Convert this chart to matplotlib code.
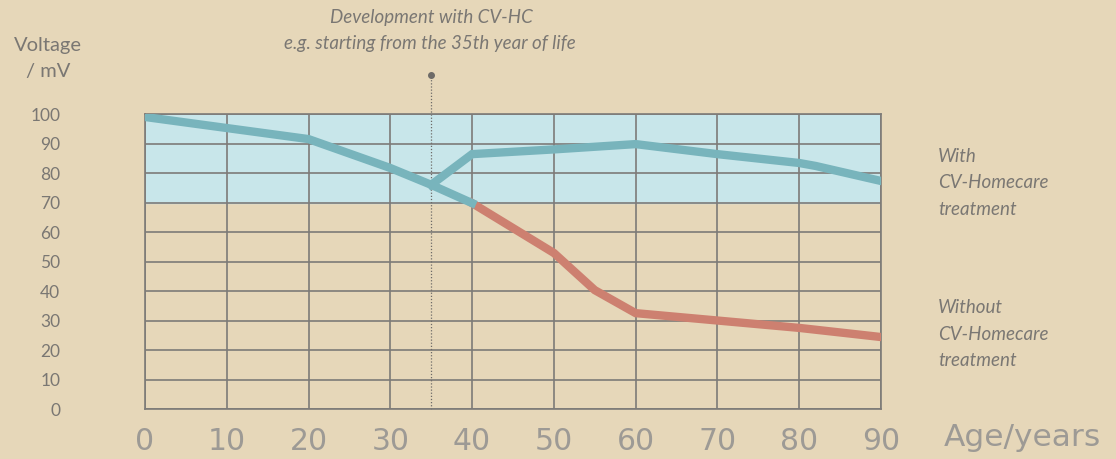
import matplotlib.pyplot as plt
from matplotlib import font_manager

# Datos
ages = [0, 10, 20, 30, 40, 50, 60, 70, 80, 90]
y_ticks = [0, 10, 20, 30, 40, 50, 60, 70, 80, 90, 100]

# Linea comun (sin tratamiento) hasta 40, con tratamiento desde 35
base_x = [0, 20, 30, 35, 40]
base_y = [99, 91.5, 81.7, 76, 69.8]

with_x = [35, 40, 50, 60, 70, 80, 82, 90]
with_y = [76, 86.4, 88, 89.8, 86.4, 83.4, 82.4, 77.3]

without_x = [40, 50, 55, 60, 70, 80, 90]
without_y = [69.8, 52.9, 40.3, 32.5, 30, 27.5, 24.4]

start_age = 35
band_low, band_high = 70, 100

bg = '#E6D7B9'
band = '#C8E6EA'
blue = '#78B4BC'
red = '#CD8070'
grid = '#7d7b78'
txt = '#7a7773'
light_txt = '#9d9a95'

names = {f.name for f in font_manager.fontManager.ttflist}
sans = 'Lato' if 'Lato' in names else 'DejaVu Sans'

fig = plt.figure(figsize=(11.16, 4.59), dpi=100, facecolor=bg)
ax = fig.add_axes([0.1299, 0.1089, 0.6595, 0.6427])
ax.set_facecolor(bg)

ax.axhspan(band_low, band_high, color=band, zorder=0)

ax.set_xlim(0, 90)
ax.set_ylim(0, 100)
ax.set_xticks(ages)
ax.set_yticks(y_ticks)
ax.grid(True, color=grid, linewidth=1.2, zorder=1)
for s in ax.spines.values():
    s.set_color(grid)
    s.set_linewidth(1.2)
ax.tick_params(length=0)

ax.set_xticklabels([str(a) for a in ages], fontsize=21.5, color=light_txt,
                   fontfamily='DejaVu Sans')
ax.set_yticklabels([str(v) for v in y_ticks], fontsize=12.5, color=txt,
                   fontfamily=sans)
ax.tick_params(axis='x', pad=13)
ax.tick_params(axis='y', pad=61)
for lbl in ax.get_yticklabels():
    lbl.set_horizontalalignment('right')

# linea punteada de inicio
ax.plot([start_age, start_age], [0, 113.2], color='#6e6b68', linestyle=(0, (1, 1.5)),
        linewidth=0.9, clip_on=False, zorder=2)
ax.plot([start_age], [113.2], marker='o', markersize=4, color='#6e6b68',
        clip_on=False, zorder=3)

ax.plot(without_x, without_y, color=red, linewidth=6, solid_joinstyle='miter', zorder=4)
ax.plot(base_x, base_y, color=blue, linewidth=6, solid_joinstyle='miter', zorder=5)
ax.plot(with_x, with_y, color=blue, linewidth=6, solid_joinstyle='miter', zorder=5)

fig.text(48 / 1116, 1 - 45 / 459, 'Voltage', ha='center', va='center',
         fontsize=14.5, color=txt, fontfamily=sans)
fig.text(48 / 1116, 1 - 72 / 459, '/ mV', ha='center', va='center',
         fontsize=14.5, color=txt, fontfamily=sans)

fig.text(431 / 1116, 1 - 17 / 459, 'Development with CV-HC', ha='center', va='center',
         fontsize=13.5, color=txt, style='italic', fontfamily=sans)
fig.text(430 / 1116, 1 - 44 / 459, 'e.g. starting from the 35th year of life',
         ha='center', va='center', fontsize=13.5, color=txt, style='italic',
         fontfamily=sans)

fig.text(938 / 1116, 1 - 183 / 459, 'With\nCV-Homecare\ntreatment', ha='left',
         va='center', fontsize=13.5, color=txt, style='italic', fontfamily=sans,
         linespacing=1.65)
fig.text(938 / 1116, 1 - 334 / 459, 'Without\nCV-Homecare\ntreatment', ha='left',
         va='center', fontsize=13.5, color=txt, style='italic', fontfamily=sans,
         linespacing=1.65)

fig.text(1022 / 1116, 1 - 437 / 459, 'Age/years', ha='center', va='center',
         fontsize=22.5, color=light_txt, fontfamily='DejaVu Sans')

fig.savefig('out.png', dpi=100, facecolor=bg)
